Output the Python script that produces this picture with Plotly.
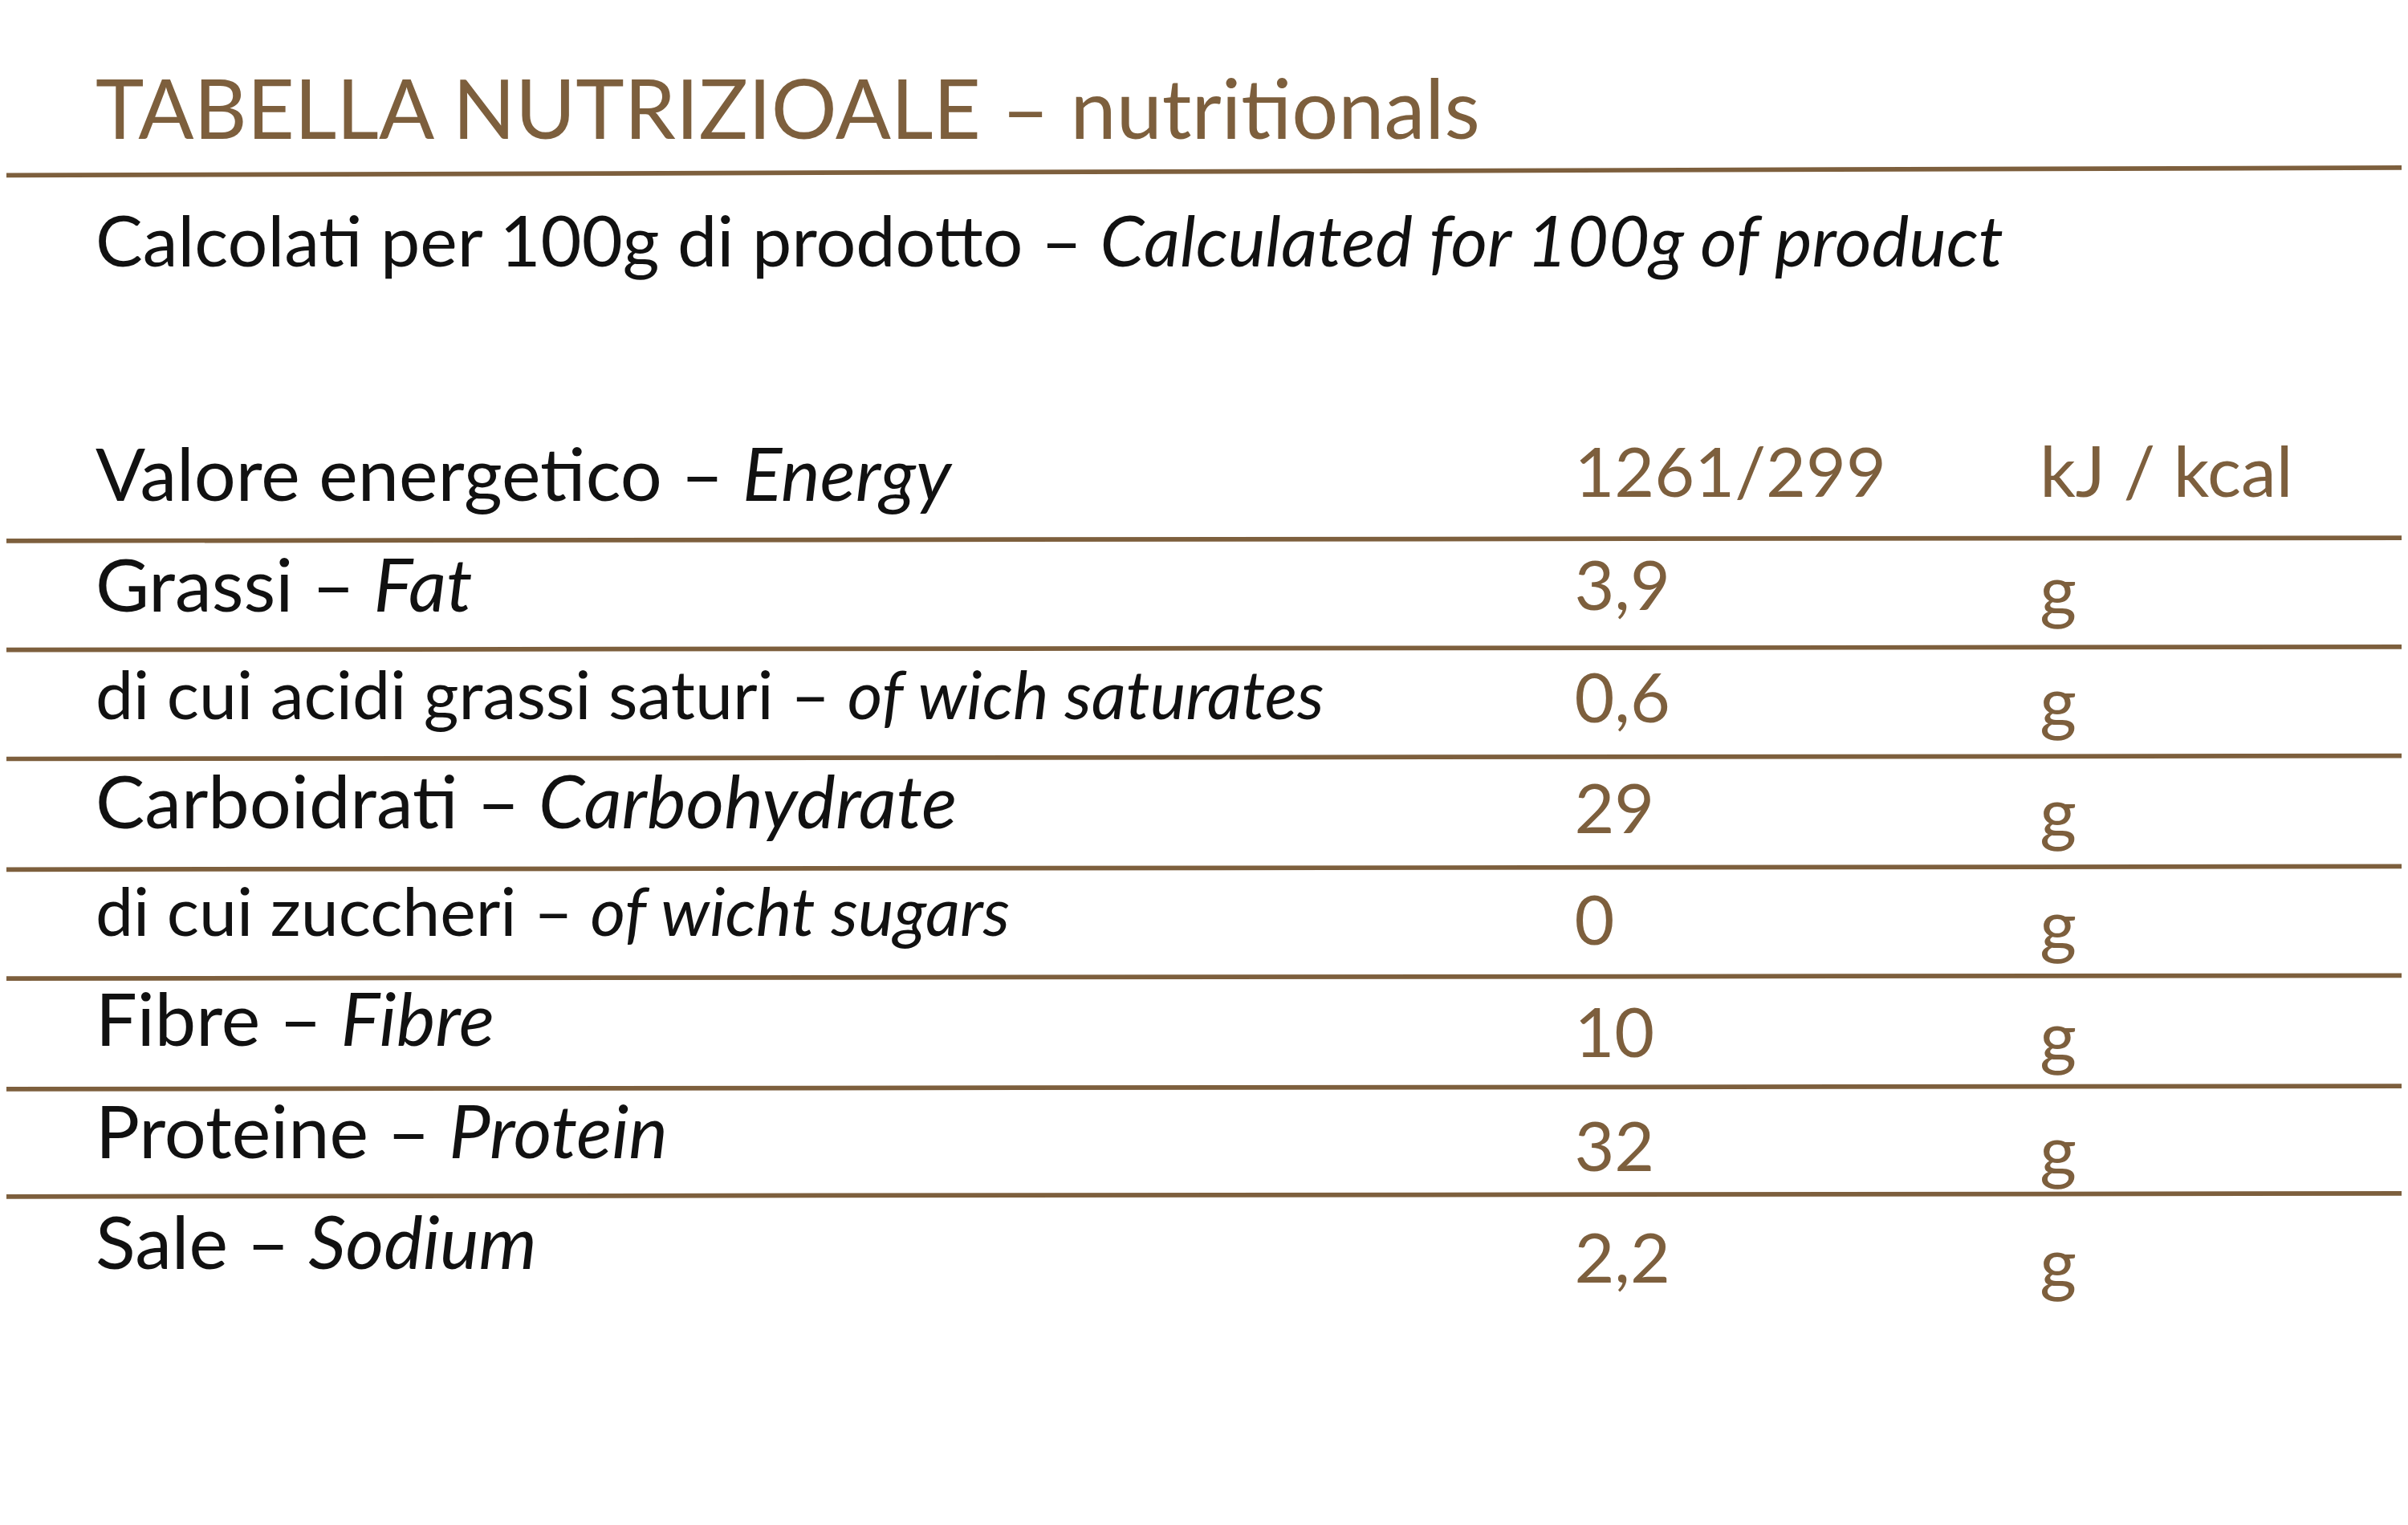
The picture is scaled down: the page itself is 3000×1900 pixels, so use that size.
import plotly.graph_objects as go

brown = '#7d5f3d'
labels_it = ['Valore energetico', 'Grassi', 'di cui acidi grassi saturi', 'Carboidrati',
             'di cui zuccheri', 'Fibre', 'Proteine', 'Sale']
labels_en = ['Energy', 'Fat', 'of wich saturates', 'Carbohydrate',
             'of wicht sugars', 'Fibre', 'Protein', 'Sodium']
values = ['1261/299', '3,9', '0,6', '29', '0', '10', '32', '2,2']
units = ['kJ / kcal', 'g', 'g', 'g', 'g', 'g', 'g', 'g']
row_y = [310, 382, 453, 523, 594, 665, 738, 810]
val_y = [308, 382, 455, 527, 600, 673, 747, 820]
line_y = [348, 419, 490, 562, 633, 705, 775]
small = [False, False, True, False, True, False, False, False]

S = 3000 / 1568  # display -> px
W, H = 1568, 1900 / S

fig = go.Figure()
fnt = 'Lato'
for sm in (False, True):
    idx = [i for i in range(8) if small[i] == sm]
    fig.add_trace(go.Scatter(
        x=[58] * len(idx), y=[row_y[i] for i in idx], mode='text',
        text=[f'{labels_it[i]} – <i>{labels_en[i]}</i>' for i in idx],
        textposition='middle right',
        textfont=dict(family=fnt, size=(44 if sm else 48) * S, color='#111111'),
        hoverinfo='skip', showlegend=False))
fig.add_trace(go.Scatter(x=[1021] * 8, y=val_y, mode='text', text=values,
    textposition='middle right', textfont=dict(family=fnt, size=45 * S, color=brown),
    hoverinfo='skip', showlegend=False))
fig.add_trace(go.Scatter(x=[1324] * 8, y=val_y[:1] + [v + 3 for v in val_y[1:]], mode='text', text=units,
    textposition='middle right', textfont=dict(family=fnt, size=46 * S, color=brown),
    hoverinfo='skip', showlegend=False))
fig.add_trace(go.Scatter(x=[58], y=[73], mode='text',
    text=['TABELLA NUTRIZIOALE – nutritionals'], textposition='middle right',
    textfont=dict(family=fnt, size=53.5 * S, color=brown), hoverinfo='skip', showlegend=False))
fig.add_trace(go.Scatter(x=[58], y=[158], mode='text',
    text=['Calcolati per 100g di prodotto – <i>Calculated for 100g of product</i>'],
    textposition='middle right', textfont=dict(family=fnt, size=46 * S, color='#111111'),
    hoverinfo='skip', showlegend=False))

shapes = [dict(type='line', x0=0, x1=W, y0=110, y1=105, line=dict(color=brown, width=3 * S))]
for ly in line_y:
    shapes.append(dict(type='line', x0=0, x1=W, y0=ly, y1=ly - 2, line=dict(color=brown, width=3 * S)))

fig.update_layout(
    width=3000, height=1900, margin=dict(l=0, r=0, t=0, b=0),
    paper_bgcolor='white', plot_bgcolor='white', shapes=shapes,
    xaxis=dict(range=[0, W], visible=False),
    yaxis=dict(range=[H, 0], visible=False),
)
fig.write_html('out.html')
